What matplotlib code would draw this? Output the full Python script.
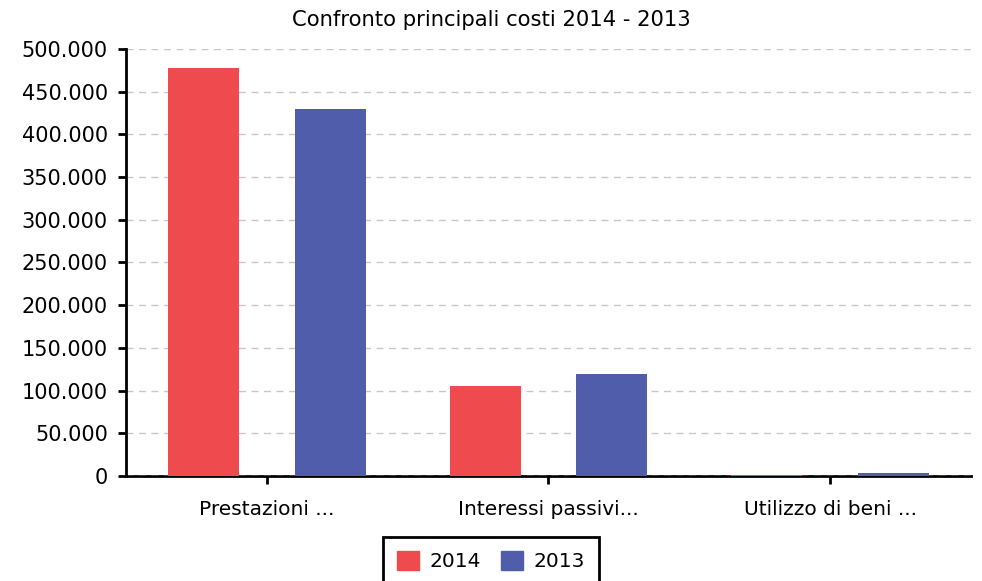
import numpy as np
import matplotlib.pyplot as plt
from matplotlib.ticker import FuncFormatter
from matplotlib.patches import Patch

# Data
categories = ["Prestazioni ...", "Interessi passivi...", "Utilizzo di beni ..."]
values_2014 = [478000, 105000, 1200]
values_2013 = [430000, 119500, 3500]
series_labels = ["2014", "2013"]

red = "#EF4B4E"
blue = "#4F5DAB"

plt.rcParams['font.family'] = ['DejaVu Sans']

fig = plt.figure(figsize=(9.82, 5.81), dpi=100)
ax = fig.add_axes([0.1283, 0.1807, 0.8605, 0.735])

x = np.arange(len(categories))
w = 0.252
off = 0.225
ax.bar(x - off, values_2014, w, color=red, zorder=3)
ax.bar(x + off, values_2013, w, color=blue, zorder=3)

ax.set_xlim(-0.5, len(categories) - 0.5)
ax.set_ylim(0, 500000)
ax.set_yticks(np.arange(0, 500001, 50000))
ax.yaxis.set_major_formatter(FuncFormatter(lambda v, p: f"{int(v):,}".replace(",", ".")))
ax.set_xticks(x)
ax.set_xticklabels(categories)

ax.grid(axis='y', color='#c8c8c8', linestyle=(0, (5, 4)), linewidth=1, zorder=4)
ax.set_axisbelow(False)
for s in ['top', 'right']:
    ax.spines[s].set_visible(False)
ax.spines['left'].set_linewidth(2)
ax.spines['bottom'].set_linewidth(2)
ax.spines['left'].set_zorder(5)
ax.tick_params(axis='y', length=6, width=2, labelsize=15, pad=7)
ax.tick_params(axis='x', length=6, width=2, labelsize=14.5, pad=11)

# title centred on the figure, not the axes
fig.text(0.5, 0.965, "Confronto principali costi 2014 - 2013", fontsize=15.2,
         ha='center', va='center')

handles = [Patch(color=red), Patch(color=blue)]
leg = fig.legend(handles, series_labels, loc='lower center', bbox_to_anchor=(0.5, -0.025),
                 ncol=2, fontsize=14.5, frameon=True, fancybox=False, edgecolor='black',
                 framealpha=1, handlelength=1.1, handleheight=1.1, columnspacing=1.0,
                 handletextpad=0.5, borderpad=0.7)
leg.get_frame().set_linewidth(2)

fig.savefig("out.png", dpi=100)
